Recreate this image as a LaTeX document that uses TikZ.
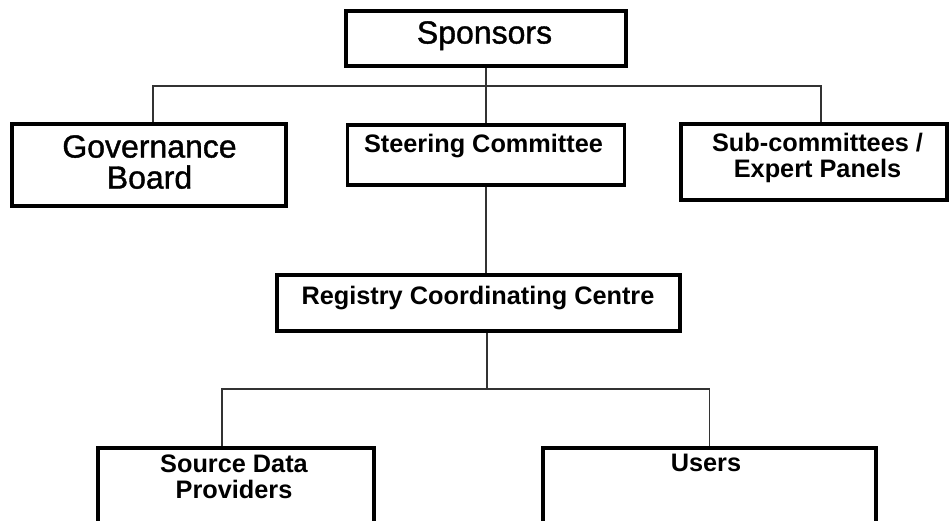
\documentclass[tikz,border=0pt]{standalone}
\usepackage{fontspec}
\setmainfont{Liberation Sans}
\newfontfamily\headfont[FakeBold=1.2]{Liberation Sans}
\usetikzlibrary{positioning}

\tikzset{
  box/.style={draw, rectangle, line width=3.4pt, inner sep=0pt},
  heavybox/.style={box, line width=4pt},
  conn/.style={draw=black!80, line width=1.3pt},
  bigtxt/.style={font=\headfont\fontsize{32}{31}\selectfont, align=center, inner sep=0pt, anchor=north},
  smalltxt/.style={font=\fontsize{25.3}{26}\selectfont\bfseries, align=center, inner sep=0pt, anchor=north},
}

\begin{document}
\begin{tikzpicture}[x=1pt, y=-1pt]

    \useasboundingbox (0,0) rectangle (952,521);
    \clip (0,0) rectangle (952,521);

    \node[heavybox, minimum width=280pt, minimum height=55pt,
          label={[bigtxt, yshift=-12pt, xshift=-1.5pt]north:Sponsors}] (spons) at (486,38.5) {};
    \node[heavybox, minimum width=274pt, minimum height=82pt,
          label={[bigtxt, yshift=-13pt, xshift=0.5pt]north:Governance\\Board}] (gov) at (149,165) {};
    \node[box, minimum width=277pt, minimum height=60pt,
          label={[smalltxt, yshift=-10.5pt, xshift=-2.5pt]north:Steering Committee}] (steer) at (486,155) {};
    \node[box, minimum width=266pt, minimum height=76pt,
          label={[smalltxt, yshift=-11pt, xshift=3.5pt]north:Sub-committees /\\Expert Panels}] (sub) at (814,162) {};
    \node[heavybox, minimum width=403pt, minimum height=56pt,
          label={[smalltxt, yshift=-13pt, xshift=-0.5pt]north:Registry Coordinating Centre}] (reg) at (478.5,303) {};
    \node[heavybox, minimum width=276pt, minimum height=112pt,
          label={[smalltxt, yshift=-9pt, xshift=-2pt]north:Source Data\\Providers}] (src) at (236,504) {};
    \node[heavybox, minimum width=333pt, minimum height=112pt,
          label={[smalltxt, yshift=-8pt, xshift=-3.5pt]north:Users}] (users) at (709.5,504) {};

    \coordinate (topbus) at (486,86);
    \coordinate (lowbus) at (487,389);

    \draw[conn] (spons.south) -- (topbus);
    \draw[conn] ([xshift=4pt]gov.north) |- (topbus) -| ([xshift=7pt]sub.north);
    \draw[conn] (topbus) -- (steer.north);
    \draw[conn] (steer.south) -- (steer.south |- reg.north);
    \draw[conn] ([xshift=8.5pt]reg.south) -- (lowbus);
    \draw[conn] ([xshift=-14pt]src.north) |- (lowbus) -| (users.north);

\end{tikzpicture}
\end{document}
